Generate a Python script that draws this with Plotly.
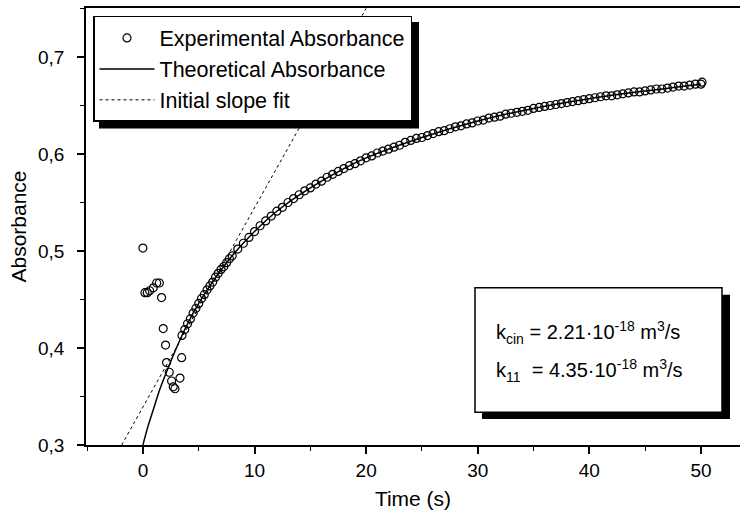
import plotly.graph_objects as go

# ---------------- data ----------------
exp_time = [0.0, 0.18, 0.39, 0.6, 0.93, 1.23, 1.47, 1.67, 1.82, 2.03, 2.12, 2.36, 2.57, 2.72, 2.87, 3.32, 3.47,
            3.5, 3.75, 4.0, 4.25, 4.5, 4.75, 5.0, 5.25, 5.5, 5.75, 6.0, 6.25, 6.5, 6.75, 7.0, 7.25, 7.5, 7.75,
            8.0, 8.5, 9.0, 9.5, 10.0, 10.5, 11.0, 11.5, 12.0, 12.5, 13.0, 13.5, 14.0, 14.5, 15.0, 15.5,
            16.0, 16.5, 17.0, 17.5, 18.0, 18.5, 19.0, 19.5, 20.0, 20.5, 21.0, 21.5, 22.0, 22.5, 23.0, 23.5,
            24.0, 24.5, 25.0, 25.5, 26.0, 26.5, 27.0, 27.5, 28.0, 28.5, 29.0, 29.5, 30.0, 30.5, 31.0, 31.5,
            32.0, 32.5, 33.0, 33.5, 34.0, 34.5, 35.0, 35.5, 36.0, 36.5, 37.0, 37.5, 38.0, 38.5, 39.0, 39.5,
            40.0, 40.5, 41.0, 41.5, 42.0, 42.5, 43.0, 43.5, 44.0, 44.5, 45.0, 45.5, 46.0, 46.5, 47.0, 47.5,
            48.0, 48.5, 49.0, 49.5, 50.0, 50.1]
exp_abs = [0.503, 0.457, 0.457, 0.459, 0.462, 0.467, 0.467, 0.452, 0.420, 0.403, 0.385, 0.375, 0.366, 0.360, 0.358, 0.369, 0.390,
           0.413, 0.419, 0.425, 0.430, 0.436, 0.441, 0.446, 0.451, 0.455, 0.460, 0.464, 0.468, 0.473, 0.477, 0.481, 0.484, 0.488, 0.492,
           0.495, 0.502, 0.508, 0.514, 0.520, 0.526, 0.531, 0.536, 0.541, 0.545, 0.550, 0.554, 0.558, 0.562, 0.565, 0.569,
           0.572, 0.576, 0.579, 0.582, 0.585, 0.588, 0.590, 0.593, 0.596, 0.598, 0.601, 0.603, 0.605, 0.607, 0.609, 0.612,
           0.614, 0.616, 0.617, 0.619, 0.621, 0.623, 0.624, 0.626, 0.628, 0.629, 0.631, 0.632, 0.634, 0.635, 0.637, 0.638,
           0.639, 0.641, 0.642, 0.643, 0.644, 0.645, 0.647, 0.648, 0.649, 0.650, 0.651, 0.652, 0.653, 0.654, 0.655, 0.656,
           0.657, 0.658, 0.659, 0.660, 0.660, 0.661, 0.662, 0.663, 0.664, 0.664, 0.665, 0.666, 0.667, 0.667, 0.668, 0.669,
           0.670, 0.670, 0.671, 0.672, 0.672, 0.674]

theo_time = [0, 0.25, 0.5, 1, 1.5, 2, 3, 4, 5, 6, 8, 10, 12, 15, 18, 20, 25, 30, 35, 40, 45, 50]
theo_abs = [0.300, 0.311, 0.321, 0.339, 0.357, 0.372, 0.400, 0.425, 0.446, 0.464, 0.495, 0.520, 0.541, 0.565,
            0.585, 0.596, 0.617, 0.634, 0.647, 0.657, 0.665, 0.672]

slope_time = [-1.9, 20.0]
slope_abs = [0.30, 0.75]

y_ticks = [0.3, 0.4, 0.5, 0.6, 0.7]
x_ticks = [0, 10, 20, 30, 40, 50]

# ---------------- figure ----------------
FONT = "Liberation Sans, Arial, Helvetica, sans-serif"
W, H = 746, 521
L, R, T, B = 86, 6, 6, 76
pw, ph = W - L - R, H - T - B


def px(x):
    return (x - L) / pw


def py(y):
    return (H - B - y) / ph


fig = go.Figure()
fig.add_trace(go.Scatter(x=slope_time, y=slope_abs, mode="lines", name="Initial slope fit",
                         line=dict(color="black", width=1, dash="dot"), legendrank=3))
fig.add_trace(go.Scatter(x=theo_time, y=theo_abs, mode="lines", name="Theoretical Absorbance",
                         line=dict(color="black", width=1.5, shape="spline"), legendrank=2))
fig.add_trace(go.Scatter(x=exp_time, y=exp_abs, mode="markers", name="Experimental Absorbance",
                         marker=dict(symbol="circle-open", size=8, color="black", line=dict(width=1.2)),
                         legendrank=1))

axis_common = dict(showgrid=False, zeroline=False, showline=True, linecolor="black", linewidth=1.5,
                   ticks="outside", tickcolor="black", tickwidth=1.5, ticklen=7,
                   tickfont=dict(family=FONT, size=19, color="black"))

fig.update_xaxes(range=[-5.1, 53.5], tickvals=x_ticks, mirror=True,
                 minor=dict(dtick=5, tick0=0, ticks="outside", ticklen=4, tickcolor="black", tickwidth=1.2),
                 title=dict(text="Time (s)", font=dict(family=FONT, size=21, color="black"), standoff=12),
                 **axis_common)
fig.update_yaxes(range=[0.3, 0.7505], tickvals=y_ticks, tickformat=".1f", ticklabelstandoff=9,
                 minor=dict(dtick=0.05, tick0=0.3, ticks="outside", ticklen=4, tickcolor="black", tickwidth=1.2),
                 title=dict(text="Absorbance", font=dict(family=FONT, size=21, color="black"), standoff=6),
                 **axis_common)

shapes = [
    # legend shadow
    dict(type="rect", xref="paper", yref="paper", x0=px(99), x1=px(419), y0=py(127), y1=py(20),
         fillcolor="black", line=dict(width=0), layer="above"),
    # annotation box shadow
    dict(type="rect", xref="paper", yref="paper", x0=px(482), x1=px(730), y0=py(419), y1=py(294),
         fillcolor="black", line=dict(width=0), layer="above"),
    # annotation box
    dict(type="rect", xref="paper", yref="paper", x0=px(475), x1=px(722), y0=py(412), y1=py(287),
         fillcolor="white", line=dict(color="black", width=1.5), layer="above"),
]

annotations = [
    dict(xref="paper", yref="paper", x=px(494), y=py(332), xanchor="left", yanchor="middle", showarrow=False,
         text="k<sub>cin</sub> = 2.21·10<sup>-18</sup> m<sup>3</sup>/s",
         font=dict(family=FONT, size=20, color="black")),
    dict(xref="paper", yref="paper", x=px(494), y=py(370), xanchor="left", yanchor="middle", showarrow=False,
         text="k<sub>11</sub>\u00a0\u00a0= 4.35·10<sup>-18</sup> m<sup>3</sup>/s",
         font=dict(family=FONT, size=20, color="black")),
]

fig.update_layout(
    width=W, height=H, autosize=False,
    margin=dict(l=L, r=R, t=T, b=B, pad=0),
    paper_bgcolor="white", plot_bgcolor="white",
    separators=",.",
    showlegend=True,
    legend=dict(x=px(93), y=py(14), xanchor="left", yanchor="top",
                bgcolor="white", bordercolor="black", borderwidth=1.5,
                font=dict(family=FONT, size=21.5, color="black"),
                itemwidth=55, tracegroupgap=0),
    shapes=shapes,
    annotations=annotations,
)

fig.write_html("out.html", config={"displayModeBar": False},
               post_script="document.body.style.margin='0';document.body.style.padding='0';")
